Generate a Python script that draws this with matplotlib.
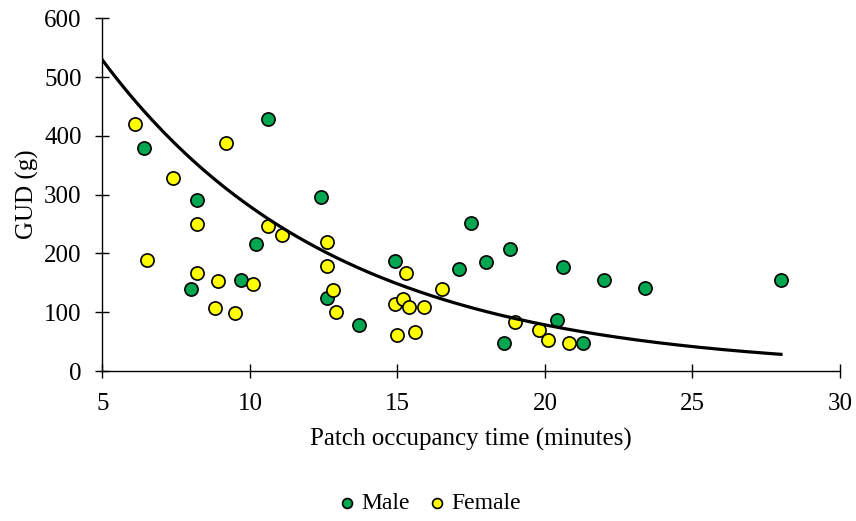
import numpy as np
import matplotlib.pyplot as plt

plt.rcParams["font.family"] = ["Liberation Serif", "DejaVu Serif"]

# ── data ──────────────────────────────────────────────────────────────────────
male_time = [6.4, 8.2, 8.0, 9.7, 10.6, 10.2, 12.4, 12.6, 13.7, 14.9, 17.1,
             17.5, 18.0, 18.8, 18.6, 20.4, 20.6, 21.3, 22.0, 23.4, 28.0]
male_gud = [380, 291, 139, 155, 428, 216, 296, 125, 79, 187, 173,
            252, 186, 208, 48, 86, 177, 48, 154, 141, 154]

female_time = [6.1, 7.4, 8.2, 6.5, 8.2, 8.9, 8.8, 9.5, 10.1, 9.2, 10.6,
               11.1, 12.6, 12.6, 12.8, 12.9, 15.3, 14.9, 15.2, 15.4, 15.9,
               15.0, 15.6, 16.5, 19.0, 19.8, 20.1, 20.8]
female_gud = [421, 328, 250, 189, 166, 153, 108, 99, 148, 388, 247,
              232, 219, 178, 137, 100, 167, 114, 122, 109, 109,
              61, 66, 139, 83, 69, 53, 47]

# exponential trend line y = a * exp(-b * x), drawn from x = 5 to 28
trend_a = 999.0
trend_b = 0.1272
trend_range = (5, 28)

# ── figure ────────────────────────────────────────────────────────────────────
fig = plt.figure(figsize=(8.56, 5.21), dpi=100)
ax = fig.add_axes([0.1197, 0.2879, 0.8616, 0.677])

ax.scatter(male_time, male_gud, s=90, c="#00A650", edgecolors="black",
           linewidths=1.2, zorder=3, label="Male")
ax.scatter(female_time, female_gud, s=90, c="#FFFF00", edgecolors="black",
           linewidths=1.2, zorder=3, label="Female")

xs = np.linspace(*trend_range, 200)
ax.plot(xs, trend_a * np.exp(-trend_b * xs), color="black", lw=2.3, zorder=4)

ax.set_xlim(5, 30)
ax.set_ylim(0, 600)
ax.set_xticks(range(5, 31, 5))
ax.set_yticks(range(0, 601, 100))
ax.set_xlabel("Patch occupancy time (minutes)", fontsize=18, labelpad=9)
ax.set_ylabel("GUD (g)", fontsize=18, labelpad=4)
ax.tick_params(direction="inout", length=10, width=1, labelsize=18)
ax.tick_params(axis="x", pad=11)
ax.tick_params(axis="y", pad=10)

for side in ("top", "right"):
    ax.spines[side].set_visible(False)
for side in ("left", "bottom"):
    ax.spines[side].set_linewidth(1.0)

fig.legend(loc="center", bbox_to_anchor=(0.5, 1 - 503 / 521), ncol=2,
           frameon=False, fontsize=17, handlelength=1.0, handletextpad=0.1,
           columnspacing=0.65, markerscale=0.75)

fig.savefig("out.png", dpi=100)
